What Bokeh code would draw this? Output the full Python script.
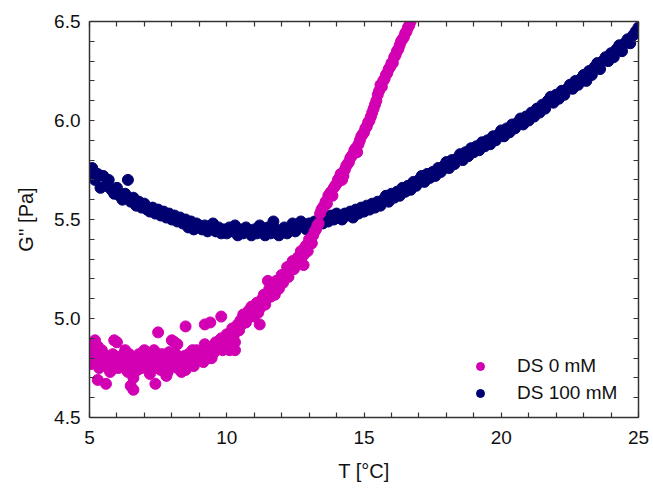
from bokeh.plotting import figure
from bokeh.models import (Range1d, FixedTicker, PrintfTickFormatter, LinearAxis,
                          Legend, LegendItem, ColumnDataSource, CustomJSTickFormatter)
from bokeh.embed import file_html
from bokeh.resources import INLINE

# ---------------- data ----------------
x_ticks = [5, 10, 15, 20, 25]
x_minor = [6, 7, 8, 9, 11, 12, 13, 14, 16, 17, 18, 19, 21, 22, 23, 24]
y_ticks = [4.5, 5.0, 5.5, 6.0, 6.5]
y_minor = [4.6, 4.7, 4.8, 4.9, 5.1, 5.2, 5.3, 5.4, 5.6, 5.7, 5.8, 5.9, 6.1, 6.2, 6.3, 6.4]

series_names = ["DS 0 mM", "DS 100 mM"]

# DS 0 mM
ds0_T_a = [5.0, 5.1, 5.2, 5.3, 5.4, 5.5, 5.6, 5.7, 5.8, 5.9, 6.0, 6.1, 6.2, 6.3, 6.4, 6.5, 6.6, 6.7, 6.8, 6.9,
           7.0, 7.1, 7.2, 7.3, 7.4, 7.5, 7.6, 7.7, 7.8, 7.9, 8.0, 8.1, 8.2, 8.3, 8.4, 8.5, 8.6, 8.7, 8.8, 8.9,
           9.0, 9.1, 9.2, 9.3, 9.4, 9.5, 9.6, 9.7, 9.8, 9.9, 10.0, 10.1, 10.2, 10.3, 10.4, 10.5, 10.6, 10.7, 10.8, 10.9,
           11.0, 11.1, 11.2, 11.3, 11.4, 11.5, 11.6, 11.7, 11.8, 11.9, 12.0, 12.1, 12.2, 12.3, 12.4, 12.5, 12.6, 12.7, 12.8, 12.9,
           13.0, 13.1, 13.2, 13.3, 13.4, 13.5, 13.6, 13.7, 13.8, 13.9, 14.0, 14.1, 14.2, 14.3, 14.4, 14.5, 14.6, 14.7, 14.8, 14.9,
           15.0, 15.1, 15.2, 15.3, 15.4, 15.5, 15.6, 15.7, 15.8, 15.9, 16.0, 16.1, 16.2, 16.3, 16.4, 16.5, 16.6, 16.7]
ds0_G_a = [4.80, 4.85, 4.78, 4.86, 4.82, 4.79, 4.76, 4.81, 4.74, 4.78, 4.88, 4.80, 4.76, 4.84, 4.73, 4.79, 4.70, 4.77, 4.82, 4.75,
           4.84, 4.78, 4.72, 4.80, 4.76, 4.82, 4.74, 4.79, 4.71, 4.83, 4.77, 4.88, 4.75, 4.80, 4.78, 4.74, 4.82, 4.79, 4.76, 4.84,
           4.81, 4.79, 4.87, 4.83, 4.80, 4.86, 4.88, 4.85, 4.90, 4.87, 4.92, 4.89, 4.95, 4.88, 4.97, 4.99, 5.02, 4.98, 5.04, 5.06,
           5.01, 5.08, 5.05, 5.10, 5.07, 5.13, 5.11, 5.16, 5.19, 5.15, 5.22, 5.20, 5.26, 5.24, 5.29, 5.27, 5.31, 5.34, 5.32, 5.37,
           5.40, 5.38, 5.44, 5.47, 5.53, 5.56, 5.59, 5.62, 5.64, 5.66, 5.68, 5.71, 5.70, 5.75, 5.78, 5.81, 5.83, 5.86, 5.88, 5.92,
           5.94, 5.97, 6.00, 6.04, 6.08, 6.13, 6.18, 6.20, 6.23, 6.26, 6.29, 6.32, 6.35, 6.38, 6.41, 6.44, 6.47, 6.50]
ds0_T_b = [5.05, 5.15, 5.25, 5.35, 5.45, 5.55, 5.65, 5.75, 5.85, 5.95, 6.05, 6.15, 6.25, 6.35, 6.45, 6.55, 6.65, 6.75, 6.85, 6.95,
           7.05, 7.15, 7.25, 7.35, 7.45, 7.55, 7.65, 7.75, 7.85, 7.95, 8.05, 8.15, 8.25, 8.35, 8.45, 8.55, 8.65, 8.75, 8.85, 8.95,
           9.05, 9.15, 9.25, 9.35, 9.45, 9.55, 9.65, 9.75, 9.85, 9.95, 10.05, 10.15, 10.25, 10.35, 10.45, 10.55, 10.65, 10.75, 10.85, 10.95,
           11.05, 11.15, 11.25, 11.35, 11.45, 11.55, 11.65, 11.75, 11.85, 11.95, 12.05, 12.15, 12.25, 12.35, 12.45, 12.55, 12.65, 12.75, 12.85, 12.95,
           13.05, 13.15, 13.25, 13.35, 13.45, 13.55, 13.65, 13.75, 13.85, 13.95, 14.05, 14.15, 14.25, 14.35, 14.45, 14.55, 14.65, 14.75, 14.85, 14.95,
           15.05, 15.15, 15.25, 15.35, 15.45, 15.55, 15.65, 15.75, 15.85, 15.95, 16.05, 16.15, 16.25, 16.35, 16.45, 16.55, 16.65]
ds0_G_b = [4.77, 4.83, 4.80, 4.75, 4.84, 4.77, 4.80, 4.73, 4.82, 4.77, 4.75, 4.81, 4.78, 4.74, 4.82, 4.76, 4.80, 4.74, 4.79, 4.83,
           4.76, 4.81, 4.78, 4.84, 4.75, 4.79, 4.82, 4.77, 4.73, 4.80, 4.76, 4.82, 4.79, 4.73, 4.81, 4.77, 4.80, 4.84, 4.78, 4.80,
           4.83, 4.78, 4.82, 4.85, 4.80, 4.83, 4.86, 4.89, 4.84, 4.90, 4.88, 4.93, 4.91, 4.96, 4.94, 4.97, 5.00, 5.03, 5.01, 5.04,
           5.06, 5.03, 5.09, 5.12, 5.10, 5.15, 5.14, 5.12, 5.18, 5.20, 5.18, 5.23, 5.21, 5.27, 5.25, 5.30, 5.28, 5.33, 5.36, 5.34,
           5.39, 5.42, 5.45, 5.48, 5.55, 5.57, 5.58, 5.63, 5.62, 5.67, 5.70, 5.73, 5.72, 5.77, 5.79, 5.82, 5.85, 5.84, 5.90, 5.93,
           5.96, 5.99, 6.02, 6.06, 6.10, 6.15, 6.17, 6.21, 6.24, 6.27, 6.29, 6.33, 6.36, 6.40, 6.42, 6.45, 6.48]
ds0_T_out = [5.3, 5.6, 6.5, 6.6, 7.4, 7.5, 8.5, 9.2, 9.8, 10.3, 5.2, 5.9, 8.0, 8.2, 11.2, 10.1, 9.4, 11.5, 12.8]
ds0_G_out = [4.69, 4.67, 4.66, 4.64, 4.67, 4.93, 4.96, 4.97, 5.01, 4.84, 4.89, 4.89, 4.89, 4.87, 4.97, 4.84, 4.98, 5.19, 5.27]

# DS 100 mM
ds100_T = [5.0, 5.1, 5.2, 5.3, 5.4, 5.5, 5.6, 5.7, 5.8, 5.9, 6.0, 6.1, 6.2, 6.3, 6.4, 6.5, 6.6, 6.7, 6.8, 6.9,
           7.0, 7.1, 7.2, 7.3, 7.4, 7.5, 7.6, 7.7, 7.8, 7.9, 8.0, 8.1, 8.2, 8.3, 8.4, 8.5, 8.6, 8.7, 8.8, 8.9,
           9.0, 9.1, 9.2, 9.3, 9.4, 9.5, 9.6, 9.7, 9.8, 9.9, 10.0, 10.1, 10.2, 10.3, 10.4, 10.5, 10.6, 10.7, 10.8, 10.9,
           11.0, 11.1, 11.2, 11.3, 11.4, 11.5, 11.6, 11.7, 11.8, 11.9, 12.0, 12.1, 12.2, 12.3, 12.4, 12.5, 12.6, 12.7, 12.8, 12.9,
           13.0, 13.1, 13.2, 13.3, 13.4, 13.5, 13.6, 13.7, 13.8, 13.9, 14.0, 14.1, 14.2, 14.3, 14.4, 14.5, 14.6, 14.7, 14.8, 14.9,
           15.0, 15.1, 15.2, 15.3, 15.4, 15.5, 15.6, 15.7, 15.8, 15.9, 16.0, 16.1, 16.2, 16.3, 16.4, 16.5, 16.6, 16.7, 16.8, 16.9,
           17.0, 17.1, 17.2, 17.3, 17.4, 17.5, 17.6, 17.7, 17.8, 17.9, 18.0, 18.1, 18.2, 18.3, 18.4, 18.5, 18.6, 18.7, 18.8, 18.9,
           19.0, 19.1, 19.2, 19.3, 19.4, 19.5, 19.6, 19.7, 19.8, 19.9, 20.0, 20.1, 20.2, 20.3, 20.4, 20.5, 20.6, 20.7, 20.8, 20.9,
           21.0, 21.1, 21.2, 21.3, 21.4, 21.5, 21.6, 21.7, 21.8, 21.9, 22.0, 22.1, 22.2, 22.3, 22.4, 22.5, 22.6, 22.7, 22.8, 22.9,
           23.0, 23.1, 23.2, 23.3, 23.4, 23.5, 23.6, 23.7, 23.8, 23.9, 24.0, 24.1, 24.2, 24.3, 24.4, 24.5, 24.6, 24.7, 24.8, 24.9,
           25.0, 25.0]
ds100_G = [5.72, 5.76, 5.70, 5.73, 5.66, 5.72, 5.67, 5.70, 5.65, 5.63, 5.66, 5.62, 5.60, 5.63, 5.70, 5.59, 5.61, 5.57, 5.59, 5.56,
           5.58, 5.55, 5.54, 5.56, 5.53, 5.55, 5.52, 5.54, 5.51, 5.53, 5.50, 5.52, 5.49, 5.51, 5.48, 5.50, 5.46, 5.49, 5.45, 5.48,
           5.47, 5.45, 5.47, 5.44, 5.46, 5.48, 5.44, 5.46, 5.43, 5.45, 5.43, 5.46, 5.44, 5.47, 5.42, 5.45, 5.43, 5.46, 5.44, 5.42,
           5.45, 5.43, 5.47, 5.44, 5.42, 5.46, 5.43, 5.49, 5.45, 5.42, 5.44, 5.46, 5.43, 5.45, 5.48, 5.44, 5.46, 5.49, 5.47, 5.45,
           5.48, 5.46, 5.49, 5.47, 5.50, 5.48, 5.51, 5.49, 5.52, 5.50, 5.53, 5.51, 5.50, 5.53, 5.52, 5.54, 5.51, 5.55, 5.53, 5.56,
           5.54, 5.57, 5.55, 5.58, 5.56, 5.59, 5.57, 5.60, 5.62, 5.59, 5.63, 5.61, 5.64, 5.62, 5.66, 5.64, 5.67, 5.65, 5.69, 5.67,
           5.70, 5.72, 5.69, 5.73, 5.71, 5.74, 5.72, 5.76, 5.74, 5.77, 5.79, 5.76, 5.80, 5.78, 5.81, 5.83, 5.80, 5.84, 5.82, 5.86,
           5.84, 5.87, 5.85, 5.89, 5.87, 5.90, 5.88, 5.92, 5.90, 5.93, 5.95, 5.92, 5.96, 5.94, 5.98, 5.96, 5.99, 6.01, 5.98, 6.02,
           6.00, 6.04, 6.02, 6.06, 6.04, 6.08, 6.06, 6.10, 6.12, 6.09, 6.13, 6.11, 6.15, 6.13, 6.16, 6.18, 6.16, 6.20, 6.18, 6.21,
           6.23, 6.20, 6.25, 6.23, 6.27, 6.29, 6.26, 6.30, 6.32, 6.30, 6.34, 6.32, 6.36, 6.38, 6.35, 6.39, 6.41, 6.39, 6.43, 6.45,
           6.44, 6.47]

ds0_T = ds0_T_a + ds0_T_b + ds0_T_out
ds0_G = ds0_G_a + ds0_G_b + ds0_G_out

# ---------------- style ----------------
FONT = "Liberation Sans"
C0 = "#D200B2"
C100 = "#000070"
AXC = "#333333"

p = figure(width=653, height=489, output_backend="svg", toolbar_location=None,
           x_range=Range1d(5, 25), y_range=Range1d(4.5, 6.5),
           min_border_left=89, min_border_right=15, min_border_top=21, min_border_bottom=72,
           x_axis_label="T [°C]", y_axis_label="G'' [Pa]")
p.background_fill_color = "white"
p.border_fill_color = "white"
p.outline_line_color = None
p.xgrid.visible = False
p.ygrid.visible = False

src100 = ColumnDataSource(dict(T=ds100_T, G=ds100_G))
src0 = ColumnDataSource(dict(T=ds0_T, G=ds0_G))
r100 = p.scatter("T", "G", source=src100, size=11, fill_color=C100, line_color=C100)
r0 = p.scatter("T", "G", source=src0, size=11, fill_color=C0, line_color=C0)

xt = FixedTicker(ticks=x_ticks, minor_ticks=x_minor)
yt = FixedTicker(ticks=y_ticks, minor_ticks=y_minor)

def style_axis(ax, ticker, show_labels):
    ax.ticker = ticker
    ax.axis_line_color = AXC
    ax.axis_line_width = 1.5
    ax.major_tick_line_color = AXC
    ax.minor_tick_line_color = AXC
    ax.major_tick_line_width = 1.2
    ax.minor_tick_line_width = 1.2
    ax.major_tick_in = 5
    ax.major_tick_out = 0
    ax.minor_tick_in = 5
    ax.minor_tick_out = 0
    ax.major_label_text_font = FONT
    ax.major_label_text_color = "#111111"
    ax.major_label_text_font_size = "19px"
    if not show_labels:
        ax.formatter = CustomJSTickFormatter(code="return '';")
        ax.major_label_standoff = 0

xa = p.xaxis[0]
ya = p.yaxis[0]
style_axis(xa, xt, True)
style_axis(ya, yt, True)
ya.formatter = PrintfTickFormatter(format="%.1f")
xa.major_label_standoff = 13
ya.major_label_standoff = 9
for ax in (xa, ya):
    ax.axis_label_text_font = FONT
    ax.axis_label_text_font_size = "20px"
    ax.axis_label_text_font_style = "normal"
    ax.axis_label_text_color = "#111111"
xa.axis_label_standoff = 13
ya.axis_label_standoff = 14

top = LinearAxis()
style_axis(top, FixedTicker(ticks=x_ticks, minor_ticks=x_minor), False)
p.add_layout(top, "above")
right = LinearAxis()
style_axis(right, FixedTicker(ticks=y_ticks, minor_ticks=y_minor), False)
p.add_layout(right, "right")

legend = Legend(items=[LegendItem(label=series_names[0], renderers=[r0]),
                       LegendItem(label=series_names[1], renderers=[r100])],
                location=(381, 13))
legend.background_fill_alpha = 0
legend.border_line_color = None
legend.label_text_font = FONT
legend.label_text_font_size = "19px"
legend.label_text_color = "#111111"
legend.glyph_width = 20
legend.glyph_height = 20
legend.label_height = 20
legend.spacing = 5
legend.label_standoff = 27
legend.padding = 0
legend.margin = 0
p.add_layout(legend, "center")

open("out.html", "w").write(file_html(p, INLINE))
